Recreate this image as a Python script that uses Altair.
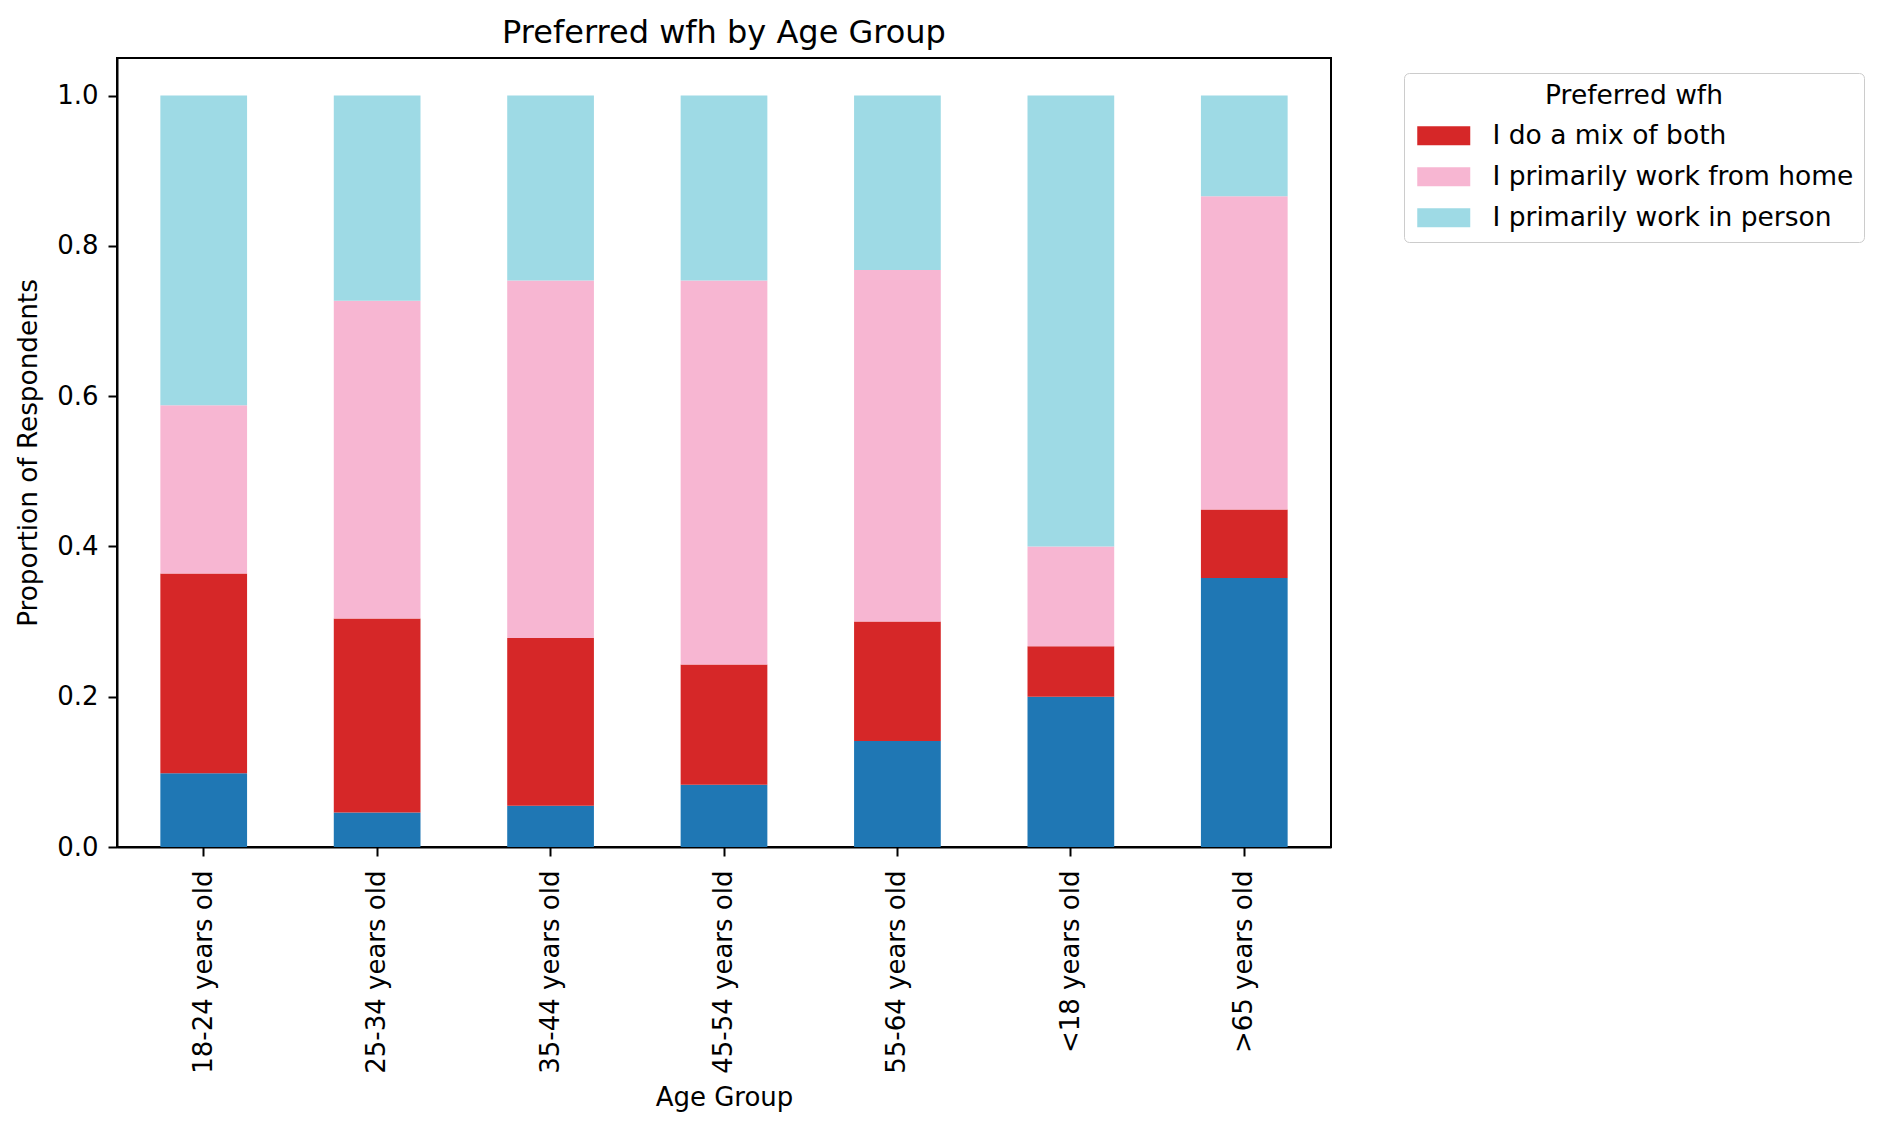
import altair as alt
import pandas as pd

age_groups = ["18-24 years old", "25-34 years old", "35-44 years old", "45-54 years old",
              "55-64 years old", "<18 years old", ">65 years old"]

series_names = ["(no answer)", "I do a mix of both", "I primarily work from home", "I primarily work in person"]
series_colors = ["#1f77b4", "#d62728", "#f7b6d2", "#9edae5"]

no_answer = [0.098, 0.046, 0.055, 0.083, 0.141, 0.200, 0.358]
mix_both = [0.266, 0.258, 0.223, 0.160, 0.159, 0.067, 0.091]
from_home = [0.224, 0.423, 0.476, 0.511, 0.468, 0.133, 0.417]
in_person = [0.412, 0.273, 0.246, 0.246, 0.232, 0.600, 0.134]

y_ticks = [0.0, 0.2, 0.4, 0.6, 0.8, 1.0]

rows = []
for k, (name, vals) in enumerate(zip(series_names, [no_answer, mix_both, from_home, in_person])):
    for g, v in zip(age_groups, vals):
        rows.append({"Age Group": g, "Preferred wfh": name, "value": v, "k": k})
df = pd.DataFrame(rows)

FONT = "DejaVu Sans"

legend_shape = "M-1,-0.95H4.3V0.95H-1Z"

chart = alt.Chart(df).mark_bar().encode(
    x=alt.X("Age Group:N", sort=age_groups,
            scale=alt.Scale(paddingInner=0.5, paddingOuter=0.25),
            axis=alt.Axis(title="Age Group", labelAngle=270, labelFontSize=26,
                          titleFontSize=26, titleFontWeight="normal", labelFont=FONT,
                          titleFont=FONT, labelColor="black", titleColor="black",
                          tickSize=9, tickWidth=2, tickColor="black", domainColor="black",
                          domainWidth=2, labelPadding=14, titlePadding=37, grid=False,
                          labelLimit=0)),
    y=alt.Y("value:Q", stack="zero",
            scale=alt.Scale(domain=[0, 1.05], nice=False, zero=True),
            axis=alt.Axis(title="Proportion of Respondents", values=y_ticks, format=".1f",
                          labelFontSize=26, titleFontSize=26.3, titleFontWeight="normal",
                          labelFont=FONT, titleFont=FONT, labelColor="black", titleColor="black",
                          tickSize=9, tickWidth=2, tickColor="black", domainColor="black",
                          domainWidth=2, labelPadding=10, titlePadding=14, grid=False)),
    color=alt.Color("Preferred wfh:N",
                    scale=alt.Scale(domain=series_names, range=series_colors),
                    legend=alt.Legend(values=series_names[1:], title="Preferred wfh",
                                      orient="none", legendX=1287, legendY=15,
                                      titleFontSize=26.5, titleFontWeight="normal", titleFont=FONT,
                                      titleColor="black", titleAnchor="middle", titlePadding=13,
                                      labelFontSize=26.5, labelFont=FONT, labelColor="black",
                                      symbolType=legend_shape, symbolSize=400,
                                      symbolStrokeWidth=0, symbolOpacity=1,
                                      labelOffset=52, rowPadding=14, padding=10,
                                      strokeColor="#cccccc", fillColor="white",
                                      cornerRadius=5, labelLimit=0)),
    order=alt.Order("k:Q", sort="ascending"),
).properties(
    width=1214,
    height=789,
    background="white",
    padding={"left": 7, "top": 9, "right": 5, "bottom": 5},
    title=alt.TitleParams("Preferred wfh by Age Group", fontSize=32, fontWeight="normal",
                          font=FONT, color="black", baseline="alphabetic", offset=15,
                          dy=32, anchor="middle"),
).configure_view(
    stroke="black", strokeWidth=2
)

chart.save("out.html", embed_options={"renderer": "svg", "actions": False})
